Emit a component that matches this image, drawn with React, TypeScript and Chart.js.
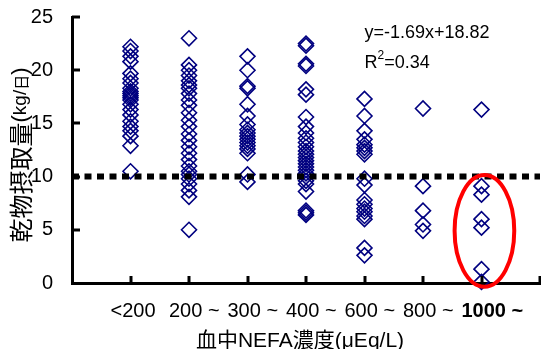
import React, { useEffect, useRef } from 'react';
import { Chart, registerables } from 'chart.js';

Chart.register(...registerables);

// ---- data ----
const categories = ['<200', '200 ~', '300 ~', '400 ~', '600 ~', '800 ~', '1000 ~'];
const groupLt200 = [22.2, 21.8, 21.3, 20.8, 19.7, 19.2, 18.8, 18.3, 18.0, 17.8, 17.6, 17.4, 17.2, 16.8, 16.3, 15.8, 15.2, 14.7, 14.3, 13.8, 12.9, 10.5];
const group200 = [23.0, 20.5, 20.0, 19.5, 19.0, 18.6, 18.3, 17.8, 17.2, 16.7, 16.0, 15.3, 14.7, 14.0, 13.4, 12.8, 12.2, 11.6, 11.0, 10.5, 10.2, 9.8, 9.3, 8.7, 8.1, 5.0];
const group300 = [21.3, 20.0, 18.5, 18.3, 16.8, 15.7, 14.9, 14.4, 14.1, 13.8, 13.5, 13.2, 12.9, 12.6, 12.2, 10.2, 9.5];
const group400 = [22.5, 22.3, 20.6, 20.4, 18.2, 17.7, 15.6, 14.7, 14.1, 13.6, 13.2, 12.8, 12.4, 12.1, 11.8, 11.5, 11.2, 10.9, 10.6, 10.3, 10.0, 9.6, 9.3, 8.6, 6.8, 6.6, 6.4];
const group600 = [17.3, 15.7, 14.3, 13.5, 13.0, 12.7, 12.4, 12.1, 9.8, 9.2, 7.8, 7.4, 7.0, 6.7, 6.3, 6.0, 3.3, 2.6];
const group800 = [16.4, 9.1, 6.8, 5.5, 4.9];
const group1000 = [16.3, 9.1, 8.3, 6.0, 5.2, 1.3, 0.1];
const groups = [groupLt200, group200, group300, group400, group600, group800, group1000];

const thresholdValue = 10;
const xMin = 0;
const xMax = 8;
const yMin = 0;
const yMax = 25;
const yStep = 5;

const regressionLabel = 'y=-1.69x+18.82';
const r2Prefix = 'R';
const r2Sup = '2';
const r2Value = '=0.34';
const regressionAnchor = { x: 5.0, y: 23.5 };
const r2Anchor = { x: 5.0, y: 20.65 };

const highlight = { cx: 7.05, cy: 4.9, rx: 0.51, ry: 5.25 };

const xTitle = '血中NEFA濃度(μEq/L)';
const yTitleMain = '乾物摂取量';

const LATIN = '"Liberation Sans", Arial, "Noto Sans CJK JP", sans-serif';
const CJK = '"Noto Sans CJK JP", "Liberation Sans", sans-serif';

const overlayPlugin = {
  id: 'overlay',
  afterDraw(chart: any) {
    const { ctx, chartArea } = chart;
    const xs = chart.scales.x;
    const ys = chart.scales.y;
    ctx.save();

    // inside tick marks
    ctx.strokeStyle = '#000';
    ctx.lineWidth = 3;
    ctx.lineCap = 'butt';
    ys.ticks.forEach((t: any) => {
      if (t.value === yMin) return;
      const py = Math.round(ys.getPixelForValue(t.value));
      ctx.beginPath();
      ctx.moveTo(chartArea.left, py);
      ctx.lineTo(chartArea.left + 8, py);
      ctx.stroke();
    });
    xs.ticks.forEach((t: any) => {
      if (t.value === xMin) return;
      const px = Math.round(xs.getPixelForValue(t.value));
      ctx.beginPath();
      ctx.moveTo(px, chartArea.bottom);
      ctx.lineTo(px, chartArea.bottom - 7);
      ctx.stroke();
    });

    // red ellipse
    const cx = xs.getPixelForValue(highlight.cx);
    const cy = ys.getPixelForValue(highlight.cy);
    const rx = xs.getPixelForValue(highlight.cx + highlight.rx) - cx;
    const ry = cy - ys.getPixelForValue(highlight.cy + highlight.ry);
    ctx.strokeStyle = '#FF0000';
    ctx.lineWidth = 4;
    ctx.beginPath();
    ctx.ellipse(cx, cy, rx, ry, 0, 0, Math.PI * 2);
    ctx.stroke();

    // regression text
    ctx.fillStyle = '#000';
    ctx.textBaseline = 'middle';
    ctx.textAlign = 'left';
    ctx.font = `18px ${LATIN}`;
    ctx.fillText(regressionLabel, xs.getPixelForValue(regressionAnchor.x), ys.getPixelForValue(regressionAnchor.y));
    let rxp = xs.getPixelForValue(r2Anchor.x);
    const ryp = ys.getPixelForValue(r2Anchor.y);
    ctx.fillText(r2Prefix, rxp, ryp);
    rxp += ctx.measureText(r2Prefix).width;
    ctx.font = `12px ${LATIN}`;
    ctx.fillText(r2Sup, rxp, ryp - 8);
    rxp += ctx.measureText(r2Sup).width;
    ctx.font = `18px ${LATIN}`;
    ctx.fillText(r2Value, rxp, ryp);

    // x title
    ctx.textAlign = 'center';
    ctx.font = `21px ${LATIN}`;
    ctx.fillText(xTitle, (chartArea.left + chartArea.right) / 2 - 6, chartArea.bottom + 58);

    // y title (rotated, mixed sizes)
    const segs = [
      { t: yTitleMain, f: `24px ${CJK}` },
      { t: '(', f: `22px ${LATIN}` },
      { t: 'kg/', f: `19px ${LATIN}` },
      { t: '日', f: `15px ${CJK}` },
      { t: ')', f: `22px ${LATIN}` },
    ];
    let total = 0;
    const widths = segs.map((s) => {
      ctx.font = s.f;
      const w = ctx.measureText(s.t).width;
      total += w;
      return w;
    });
    ctx.translate(21, (chartArea.top + chartArea.bottom) / 2 + 5);
    ctx.rotate(-Math.PI / 2);
    ctx.textAlign = 'left';
    let pos = -total / 2;
    segs.forEach((s, i) => {
      ctx.font = s.f;
      ctx.fillText(s.t, pos, 0);
      pos += widths[i];
    });

    ctx.restore();
  },
};

export default function App() {
  const ref = useRef<HTMLCanvasElement | null>(null);

  useEffect(() => {
    if (!ref.current) return;
    const points: { x: number; y: number }[] = [];
    groups.forEach((g, i) => g.forEach((v) => points.push({ x: i + 1, y: v })));

    const chart = new Chart(ref.current, {
      type: 'scatter',
      data: {
        datasets: [
          {
            type: 'line',
            data: [
              { x: xMin, y: thresholdValue },
              { x: xMax, y: thresholdValue },
            ],
            borderColor: '#000',
            borderWidth: 6,
            borderDash: [7, 5.5],
            pointRadius: 0,
            fill: false,
            order: 0,
          } as any,
          {
            data: points,
            pointStyle: 'rectRot',
            pointRadius: 7.5,
            pointBorderWidth: 1.6,
            borderColor: '#000080',
            backgroundColor: 'rgba(0,0,0,0)',
            pointBackgroundColor: 'rgba(0,0,0,0)',
            pointBorderColor: '#000080',
            clip: false,
            order: 1,
          } as any,
        ],
      },
      options: {
        animation: false,
        responsive: false,
        maintainAspectRatio: false,
        layout: { autoPadding: false, padding: { top: 17, right: 1, bottom: 0, left: 0 } },
        plugins: {
          legend: { display: false },
          tooltip: { enabled: false },
        },
        scales: {
          x: {
            type: 'linear',
            min: xMin,
            max: xMax,
            grid: { display: false, drawTicks: false },
            border: { display: true, color: '#000', width: 3 },
            afterFit: (s: any) => {
              s.height = 66;
              s.paddingLeft = 0;
              s.paddingRight = 0;
            },
            ticks: {
              stepSize: 1,
              autoSkip: false,
              maxRotation: 0,
              padding: 16,
              align: 'start',
              labelOffset: -20,
              color: '#000',
              font: (c: any) => ({
                family: LATIN,
                size: 20,
                weight: c.tick && c.tick.value === 7 ? 'bold' : 'normal',
              }),
              callback: (v: any) => categories[Number(v) - 1] ?? '',
            },
          },
          y: {
            min: yMin,
            max: yMax,
            grid: { display: false, drawTicks: false },
            border: { display: true, color: '#000', width: 3 },
            afterFit: (s: any) => {
              s.width = 72;
              s.paddingTop = 0;
              s.paddingBottom = 0;
            },
            ticks: {
              stepSize: yStep,
              padding: 19,
              color: '#000',
              font: { family: LATIN, size: 20 },
            },
          },
        },
      } as any,
      plugins: [overlayPlugin],
    });
    return () => chart.destroy();
  }, []);

  return (
    <div style={{ position: 'fixed', left: 0, top: 0, width: 541, height: 349, background: '#fff' }}>
      <canvas ref={ref} width={541} height={349} style={{ display: 'block' }} />
    </div>
  );
}
